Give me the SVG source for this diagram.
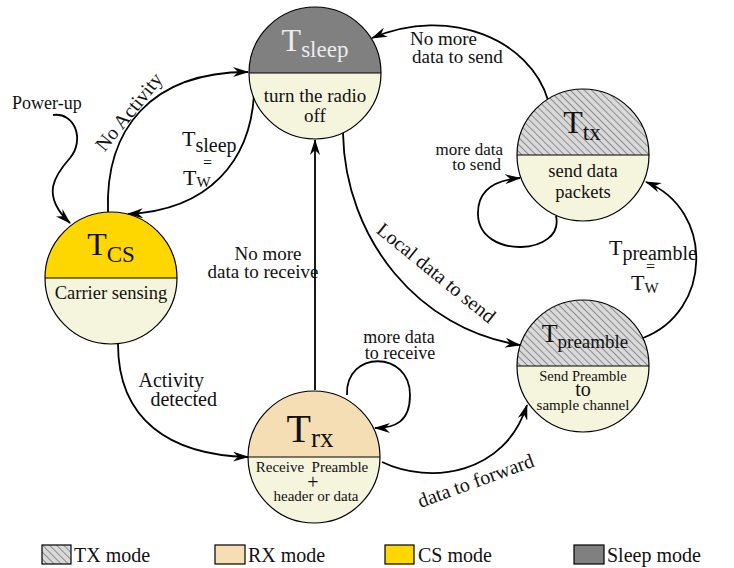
<svg xmlns="http://www.w3.org/2000/svg" width="734" height="568" viewBox="0 0 734 568" font-family="'Liberation Serif', serif">
<style>
text, tspan{font-family:'Liberation Serif', serif}
text{fill:#111}
.c{text-anchor:middle}
.e{text-anchor:end}
.lbl{font-size:19px}
.edge{fill:none;stroke:#000;stroke-width:1.8;marker-end:url(#ah)}
.ring{fill:none;stroke:#000;stroke-width:1.2}
.bot{fill:#f5f4dc}
.pre{white-space:pre}
</style>
<defs>
<pattern id="hatch" width="5" height="5" patternUnits="userSpaceOnUse" patternTransform="rotate(45)">
<rect width="5" height="5" fill="#d9d9d9"/>
<line x1="0" y1="0.5" x2="5" y2="0.5" stroke="#777" stroke-width="0.8"/>
</pattern>
<marker id="ah" viewBox="0 0 16 10" refX="15" refY="5" markerWidth="16" markerHeight="10" markerUnits="userSpaceOnUse" orient="auto">
<path d="M0,0 L16,5 L0,10 L5,5 Z" fill="#000"/>
</marker>
</defs>
<rect width="734" height="568" fill="#fff"/>

<g id="connectors">
<path class="edge" d="M53,115 C75,112 85,140 70,158 C55,175 40,195 70,223"/>
<path class="edge" d="M108,212 C105,130 150,72 248,72"/>
<path class="edge" d="M254,95 C250,160 210,210 128,214"/>
<path class="edge" d="M548,100 C530,40 450,5 372,38"/>
<path class="edge" d="M556,216 C565,255 480,260 478,215 C477,190 495,180 520,178"/>
<path class="edge" d="M643,338 C712,312 715,210 646,182"/>
<path class="edge" d="M343,133 C345,240 420,330 520,345"/>
<path class="edge" d="M315,390 L315,140"/>
<path class="edge" d="M347,395 C345,350 410,350 410,395 C410,422 395,428 375,428"/>
<path class="edge" d="M118,344 C118,420 170,455 248,457"/>
<path class="edge" d="M382,462 C430,485 505,475 527,405"/>

<text x="12" y="109" font-size="18">Power-up</text>
<text class="c" x="0" y="0" font-size="20" transform="translate(134,116) rotate(-51)">No Activity</text>
<text x="182" y="146" font-size="22">T<tspan font-size="20" dy="6">sleep</tspan></text>
<text x="203" y="168" font-size="16">=</text>
<text x="183" y="185" font-size="22">T<tspan font-size="15" dy="2">W</tspan></text>
<text x="410" y="45" class="lbl">No more</text>
<text x="412" y="63" class="lbl">data to send</text>
<text x="503" y="155" class="e" font-size="17">more data</text>
<text x="501" y="170" class="e" font-size="17">to send</text>
<text x="609" y="255" font-size="22">T<tspan font-size="20" dy="5">preamble</tspan></text>
<text x="646" y="272" font-size="16">=</text>
<text x="631" y="290" font-size="22">T<tspan font-size="15" dy="3">W</tspan></text>
<text class="c" x="0" y="0" font-size="20" transform="translate(432,278) rotate(39)">Local data to send</text>
<text class="c lbl" x="268" y="260">No more</text>
<text class="c lbl" x="263" y="278">data to receive</text>
<text class="c" x="399" y="343" font-size="18">more data</text>
<text class="c" x="400" y="359" font-size="18">to receive</text>
<text class="e" x="204" y="387" font-size="20">Activity</text>
<text class="e" x="217" y="406" font-size="20">detected</text>
<text class="c" x="0" y="0" font-size="20" transform="translate(478,487) rotate(-20)">data to forward</text>
</g>

<g id="node-sleep">
<path d="M249,73 A66,66 0 0 1 381,73 Z" fill="#808080"/>
<path class="bot" d="M249,73 A66,66 0 0 0 381,73 Z"/>
<circle class="ring" cx="315" cy="73" r="66"/>
<line x1="249" y1="73" x2="381" y2="73" stroke="#000" stroke-width="1.2"/>
<text class="c" x="315" y="51" font-size="32" style="fill:#ececec">T<tspan font-size="23" dy="6">sleep</tspan></text>
<text class="c" x="315" y="102" font-size="19">turn the radio</text>
<text class="c" x="315" y="122" font-size="19">off</text>
</g>

<g id="node-tx">
<path d="M517,155 A66,66 0 0 1 649,155 Z" fill="url(#hatch)"/>
<path class="bot" d="M517,155 A66,66 0 0 0 649,155 Z"/>
<circle class="ring" cx="583" cy="155" r="66"/>
<line x1="517" y1="155" x2="649" y2="155" stroke="#000" stroke-width="1.2"/>
<text class="c" x="582" y="133" font-size="32">T<tspan font-size="23" dy="7">tx</tspan></text>
<text class="c" x="583" y="177" font-size="18.5">send data</text>
<text class="c" x="583" y="198" font-size="18.5">packets</text>
</g>

<g id="node-preamble">
<path d="M517,366 A66,66 0 0 1 649,366 Z" fill="url(#hatch)"/>
<path class="bot" d="M517,366 A66,66 0 0 0 649,366 Z"/>
<circle class="ring" cx="583" cy="366" r="66"/>
<line x1="517" y1="366" x2="649" y2="366" stroke="#000" stroke-width="1.2"/>
<text class="c" x="585" y="342" font-size="26">T<tspan font-size="19" dy="6">preamble</tspan></text>
<text class="c" x="583" y="381" font-size="14.5">Send Preamble</text>
<text class="c" x="583" y="396" font-size="20">to</text>
<text class="c" x="583" y="410" font-size="15">sample channel</text>
</g>

<g id="node-cs">
<path d="M45,278 A66,66 0 0 1 177,278 Z" fill="#ffd700"/>
<path class="bot" d="M45,278 A66,66 0 0 0 177,278 Z"/>
<circle class="ring" cx="111" cy="278" r="66"/>
<line x1="45" y1="278" x2="177" y2="278" stroke="#000" stroke-width="1.2"/>
<text class="c" x="111" y="255" font-size="32">T<tspan font-size="23" dy="7">CS</tspan></text>
<text class="c" x="111" y="299" font-size="18.5">Carrier sensing</text>
</g>

<g id="node-rx">
<path d="M248,457 A66,66 0 0 1 380,457 Z" fill="#f5deb3"/>
<path class="bot" d="M248,457 A66,66 0 0 0 380,457 Z"/>
<circle class="ring" cx="314" cy="457" r="66"/>
<line x1="248" y1="457" x2="380" y2="457" stroke="#000" stroke-width="1.2"/>
<text class="c" x="310" y="442" font-size="40">T<tspan font-size="27" dy="5">rx</tspan></text>
<text class="c pre" x="312" y="472" font-size="15">Receive  Preamble</text>
<text class="c" x="313" y="489" font-size="20">+</text>
<text class="c" x="316" y="501" font-size="15">header or data</text>
</g>

<g id="legend">
<rect x="42" y="545" width="29" height="19" fill="url(#hatch)" stroke="#000" stroke-width="1.2"/>
<text x="74" y="562" font-size="20">TX mode</text>
<rect x="215" y="545" width="30" height="19" fill="#f5deb3" stroke="#000" stroke-width="1.2"/>
<text x="248" y="562" font-size="20">RX mode</text>
<rect x="385" y="545" width="29" height="19" fill="#ffd700" stroke="#000" stroke-width="1.2"/>
<text x="418" y="562" font-size="20">CS mode</text>
<rect x="574" y="545" width="30" height="19" fill="#808080" stroke="#000" stroke-width="1.2"/>
<text x="607" y="562" font-size="20">Sleep mode</text>
</g>
</svg>
